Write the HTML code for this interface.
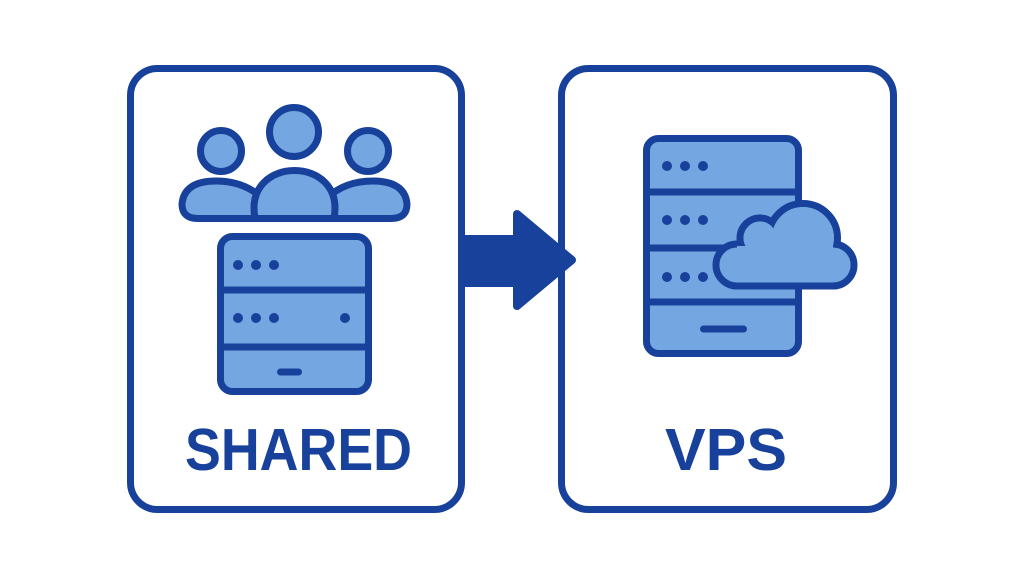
<!DOCTYPE html>
<html>
<head>
<meta charset="utf-8">
<style>
  html,body{margin:0;padding:0;background:#ffffff;}
  svg{display:block;}
</style>
</head>
<body>
<svg width="1024" height="576" viewBox="0 0 1024 576" xmlns="http://www.w3.org/2000/svg">
  <rect x="0" y="0" width="1024" height="576" fill="#ffffff"/>

  <!-- Boxes -->
  <rect x="130.5" y="68.5" width="331" height="441" rx="27" ry="27" fill="#ffffff" stroke="#17419b" stroke-width="7"/>
  <rect x="561.5" y="68.5" width="332" height="441" rx="27" ry="27" fill="#ffffff" stroke="#17419b" stroke-width="7"/>

  <!-- Arrow -->
  <rect x="462" y="235" width="56" height="52" fill="#17419b"/>
  <polygon points="517,214 572,260 517,306" fill="#17419b" stroke="#17419b" stroke-width="8" stroke-linejoin="round"/>

  <g stroke="#17419b" stroke-width="7" fill="#74a6e1" stroke-linejoin="round" stroke-linecap="round">
    <!-- People heads -->
    <circle cx="294" cy="132" r="24.5"/>
    <circle cx="221" cy="151" r="20.5"/>
    <circle cx="368" cy="151" r="20.5"/>
    <!-- Side bodies -->
    <path d="M198 218.5 Q182 218.5 182 204 Q184 181 216 181 Q244 181 262 198 L262 218.5 Z"/>
    <path d="M391 218.5 Q407 218.5 407 204 Q405 181 373 181 Q345 181 327 198 L327 218.5 Z"/>
    <!-- Center body -->
    <path d="M255 218.5 C249 186 272 170.5 294.5 170.5 C317 170.5 340 186 334 218.5 Z"/>

    <!-- Left server -->
    <rect x="220.5" y="236.5" width="148" height="155" rx="12" ry="12"/>
    <line x1="220.5" y1="290" x2="368.5" y2="290"/>
    <line x1="220.5" y1="347" x2="368.5" y2="347"/>
    <line x1="280.5" y1="372" x2="298.5" y2="372"/>

    <!-- Right server -->
    <rect x="646.5" y="138.5" width="152" height="215" rx="12" ry="12"/>
    <line x1="646.5" y1="192" x2="798.5" y2="192"/>
    <line x1="646.5" y1="248" x2="798.5" y2="248"/>
    <line x1="646.5" y1="302" x2="798.5" y2="302"/>
    <line x1="703.5" y1="329" x2="743.5" y2="329"/>
  </g>

  <!-- Server dots -->
  <g fill="#17419b">
    <circle cx="238" cy="265" r="5"/>
    <circle cx="256" cy="265" r="5"/>
    <circle cx="274" cy="265" r="5"/>
    <circle cx="238" cy="318" r="5"/>
    <circle cx="256" cy="318" r="5"/>
    <circle cx="274" cy="318" r="5"/>
    <circle cx="345" cy="318" r="5"/>

    <circle cx="667" cy="166" r="5"/>
    <circle cx="685" cy="166" r="5"/>
    <circle cx="703" cy="166" r="5"/>
    <circle cx="667" cy="220" r="5"/>
    <circle cx="685" cy="220" r="5"/>
    <circle cx="703" cy="220" r="5"/>
    <circle cx="667" cy="277" r="5"/>
    <circle cx="685" cy="277" r="5"/>
    <circle cx="703" cy="277" r="5"/>
  </g>

  <!-- Cloud: stroked layer then fill layer for union outline -->
  <g fill="#74a6e1" stroke="#17419b" stroke-width="7">
    <circle cx="737" cy="265" r="21"/>
    <circle cx="760" cy="238" r="20"/>
    <circle cx="803" cy="238" r="34.5"/>
    <circle cx="833" cy="265" r="21"/>
    <rect x="737" y="250" width="96" height="36"/>
  </g>
  <g fill="#74a6e1">
    <circle cx="737" cy="265" r="17.5"/>
    <circle cx="760" cy="238" r="16.5"/>
    <circle cx="803" cy="238" r="31"/>
    <circle cx="833" cy="265" r="17.5"/>
    <rect x="737" y="246" width="96" height="36.5"/>
  </g>

  <!-- Labels -->
  <text x="185" y="470" font-family="Liberation Sans, sans-serif" font-weight="bold" font-size="59" fill="#17419b" textLength="227" lengthAdjust="spacingAndGlyphs">SHARED</text>
  <text x="665" y="470" font-family="Liberation Sans, sans-serif" font-weight="bold" font-size="59" fill="#17419b" textLength="122" lengthAdjust="spacingAndGlyphs">VPS</text>
</svg>
</body>
</html>
